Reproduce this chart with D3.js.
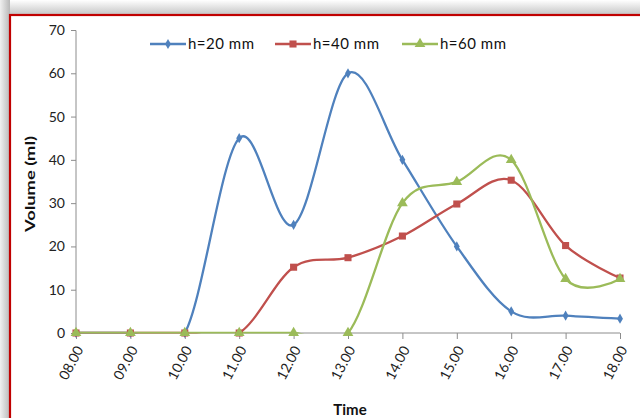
<!DOCTYPE html>
<html><head><meta charset="utf-8">
<script src="https://cdn.jsdelivr.net/npm/d3@7"></script>
<style>body{margin:0;background:#fff}svg{display:block}text{font-family:Lato,"Liberation Sans",sans-serif}</style>
</head><body><svg id="c" width="640" height="418"></svg>
<script>
const categories = ["08.00","09.00","10.00","11.00","12.00","13.00","14.00","15.00","16.00","17.00","18.00"];
const h20 = [0,0,0,45,25,60,40,20,5,4,3.3];
const h40 = [0,0,0,0,15.2,17.4,22.4,29.8,35.3,20.2,12.7];
const h60 = [0,0,0,0,0,0,30,34.9,40,12.5,12.5];
const seriesNames = ["h=20 mm","h=40 mm","h=60 mm"];
const yTicks = [0,10,20,30,40,50,60,70];

const svg = d3.select("#c");
const defs = svg.append("defs");
const gt = defs.append("linearGradient").attr("id","gt").attr("x1",0).attr("y1",0).attr("x2",0).attr("y2",1);
gt.append("stop").attr("offset","0%").attr("stop-color","#ffffff");
gt.append("stop").attr("offset","100%").attr("stop-color","#c4c4c4");
const gl = defs.append("linearGradient").attr("id","gl").attr("x1",0).attr("y1",0).attr("x2",1).attr("y2",0);
gl.append("stop").attr("offset","0%").attr("stop-color","#f0f0f0");
gl.append("stop").attr("offset","100%").attr("stop-color","#b8b8b8");
svg.append("rect").attr("x",0).attr("y",0).attr("width",640).attr("height",15).attr("fill","url(#gt)");
svg.append("rect").attr("x",0).attr("y",0).attr("width",10).attr("height",418).attr("fill","url(#gl)");
svg.append("rect").attr("x",10).attr("y",15).attr("width",640).attr("height",420).attr("fill","#fff").attr("stroke","#c00000").attr("stroke-width",2.2);

const x = d3.scalePoint().domain(categories).range([76,620]);
const y = d3.scaleLinear().domain([0,70]).range([333,30]);

defs.append("clipPath").attr("id","pc").append("rect").attr("x",76).attr("y",30).attr("width",545).attr("height",303.5);

const ya = svg.append("g").attr("transform","translate(76,0)").call(d3.axisLeft(y).tickValues(yTicks).tickSize(5).tickPadding(6));
ya.select(".domain").attr("stroke","#8c8c8c").attr("d","M-5,30.5H0V333");
ya.selectAll(".tick line").attr("stroke","#8c8c8c");
ya.selectAll("text").attr("font-size",14).attr("fill","#222").attr("font-family","Lato,sans-serif");

const xa = svg.append("g").attr("transform","translate(0,333)").call(d3.axisBottom(x).tickSize(6).tickPadding(4));
xa.select(".domain").attr("stroke","#8c8c8c").attr("d","M76,0H620");
xa.selectAll(".tick line").attr("stroke","#8c8c8c");
xa.selectAll("text").attr("font-size",14).attr("fill","#222").attr("text-anchor","end").attr("font-family","Lato,sans-serif")
  .attr("dy","0.35em").attr("transform","translate(3,14) rotate(-62)").attr("y",0).attr("x",0);

svg.append("text").attr("transform","translate(35,184) rotate(-90)").attr("text-anchor","middle")
  .attr("font-weight","bold").attr("font-size",14).attr("fill","#111").attr("textLength",96).attr("lengthAdjust","spacingAndGlyphs").text("Volume (ml)");
svg.append("text").attr("x",350).attr("y",415).attr("text-anchor","middle")
  .attr("font-weight","bold").attr("font-size",15).attr("fill","#111").text("Time");

const colors = ["#4f81bd","#c0504d","#9bbb59"];
const data = [h20,h40,h60];
const line = d3.line().x((d,i)=>x(categories[i])).y(d=>y(d)).curve(d3.curveCardinal.tension(0));
const markers = [d3.symbolDiamond, d3.symbolSquare, d3.symbolTriangle];
const msize = [30,50,50];

data.forEach((s,k)=>{
  svg.append("path").attr("d",line(s)).attr("fill","none").attr("stroke",colors[k]).attr("stroke-width",2.3).attr("clip-path","url(#pc)");
});
data.forEach((s,k)=>{
  svg.append("g").selectAll("path").data(s).join("path")
    .attr("transform",(d,i)=>`translate(${x(categories[i])},${y(d)})`)
    .attr("d",d3.symbol(markers[k],msize[k])).attr("fill",colors[k]);
});

const lx = [150,275,402];
seriesNames.forEach((n,k)=>{
  const g = svg.append("g").attr("transform",`translate(${lx[k]},44)`);
  g.append("line").attr("x1",0).attr("x2",36).attr("stroke",colors[k]).attr("stroke-width",2.3);
  g.append("path").attr("transform","translate(18,0)").attr("d",d3.symbol(markers[k],msize[k])).attr("fill",colors[k]);
  g.append("text").attr("x",38).attr("y",5).attr("font-size",15).attr("fill","#111").attr("textLength",66).attr("lengthAdjust","spacing").text(n);
});
</script></body></html>
